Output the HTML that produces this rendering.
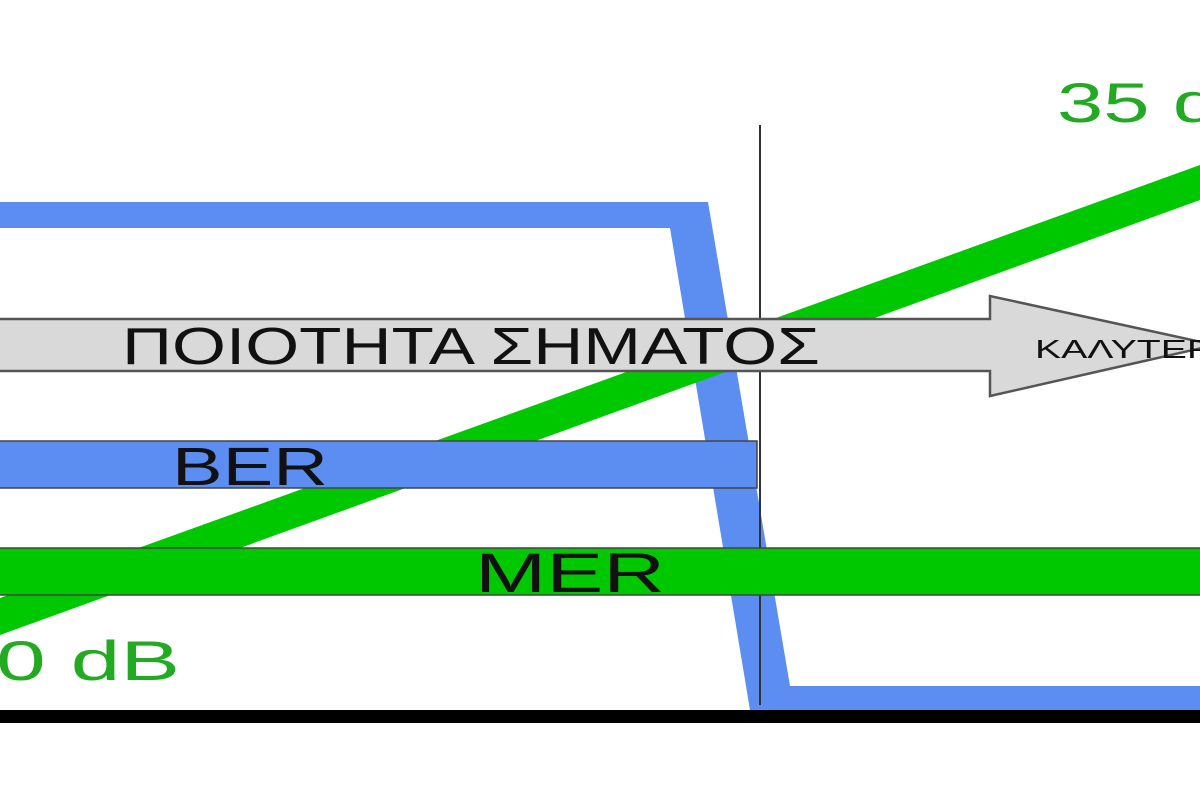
<!DOCTYPE html>
<html><head><meta charset="utf-8"><style>
html,body{margin:0;padding:0;background:#fff;width:1200px;height:800px;overflow:hidden}
</style></head><body>
<svg width="1200" height="800" xmlns="http://www.w3.org/2000/svg" font-family="Liberation Sans, sans-serif">
<rect width="1200" height="800" fill="#fff"/>
<polygon points="0,202 708,202 790,686 1200,686 1200,710 750,710 670,228 0,228" fill="#5b8ef0"/>
<polygon points="0,598 1200,165 1200,200 0,635" fill="#00c800"/>
<line x1="760" y1="125" x2="760" y2="705" stroke="#333" stroke-width="2"/>
<polygon points="-5,319 990,319 990,296 1215,345 990,396 990,371 -5,371" fill="#d9d9d9" stroke="#555" stroke-width="2.5"/>
<text x="122" y="364" font-size="52" fill="#111" textLength="698" lengthAdjust="spacingAndGlyphs">ΠΟΙΟΤΗΤΑ ΣΗΜΑΤΟΣ</text>
<text x="1035" y="358" font-size="26" fill="#111" textLength="178" lengthAdjust="spacingAndGlyphs">ΚΑΛΥΤΕΡ</text>
<rect x="-5" y="441" width="762" height="47" fill="#5b8ef0" stroke="#444" stroke-width="1.5"/>
<text x="172" y="485" font-size="54" fill="#111" textLength="156" lengthAdjust="spacingAndGlyphs">BER</text>
<rect x="-5" y="548" width="1210" height="47" fill="#00c800" stroke="#444" stroke-width="1.5"/>
<text x="475" y="592" font-size="56" fill="#111" textLength="190" lengthAdjust="spacingAndGlyphs">MER</text>
<rect x="0" y="710" width="1200" height="13" fill="#000"/>
<text x="-4" y="680" font-size="56" fill="#22aa22" textLength="184" lengthAdjust="spacingAndGlyphs">0 dB</text>
<text x="1057" y="122" font-size="56" fill="#22aa22" textLength="162" lengthAdjust="spacingAndGlyphs">35 d</text>
</svg>
</body></html>
